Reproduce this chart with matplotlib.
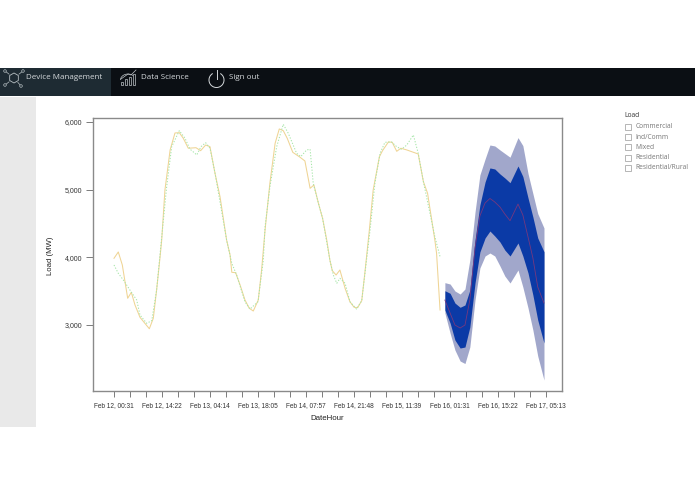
import matplotlib
matplotlib.use("Agg")
import matplotlib.pyplot as plt
from matplotlib.patches import Rectangle, Circle, Arc, RegularPolygon

# ---- data (x = hours since Feb 12, 00:31) ----
actual_h = [0,1.24,2.4,3.95,5.0,6.06,7.5,10.2,11.34,12.3,13.3,13.77,14.7,16.2,17.6,18.85,20,21.44,23.66,25,26.46,27.7,29.15,30.6,32.5,33.5,34,35.1,36.4,37.8,39.05,40.2,41.64,42.6,43.6,45,46.5,47.7,48.85,50,51.6,53.7,55.1,56.6,57.7,59,60.2,61.4,62.3,63,64.1,65.2,66.7,68.1,69.3,70.3,71.5,72.4,73.7,74.8,76.6,77.5,79.2,80.3,81.6,82.8,84.5,87.8,89.3,90.5,92.6,93.1,94.1]
actual = [3986,4079,3887,3395,3483,3296,3114,2945,3099,3517,4009,4256,4995,5587,5838,5842,5759,5612,5620,5576,5660,5635,5242,4896,4256,4035,3779,3773,3591,3370,3247,3207,3370,3813,4404,5099,5685,5897,5872,5759,5552,5479,5424,5020,5069,4799,4577,4256,3961,3803,3739,3813,3542,3344,3262,3256,3359,3769,4404,4995,5487,5576,5705,5700,5567,5612,5587,5527,5118,4947,4256,4060,3222]
fitted_h = [0,1.24,2.7,4.6,6.55,7.5,9.44,10.9,12.3,13.5,15.2,16.65,18.85,20.5,21.9,23.9,25.1,26.46,27.7,29.15,32.5,34,35.4,37.8,39.25,41.56,43.1,43.6,45,46.95,48.85,50.3,52.7,53.9,55.6,56.6,57.5,59,60.2,62.3,63.3,64.3,65.2,66.7,68.1,70,71.5,73.9,75.3,76.8,78.2,80.1,81.6,83,84.5,86.4,87.8,89.3,92.6,94.1]
fitted = [3887,3764,3665,3517,3370,3148,3025,3064,3517,4157,5044,5635,5872,5759,5601,5513,5635,5694,5612,5247,4256,3912,3739,3344,3236,3344,3961,4453,5044,5635,5966,5833,5538,5488,5587,5597,5094,4799,4577,3961,3739,3616,3690,3616,3344,3236,3359,4404,5094,5538,5700,5705,5635,5597,5660,5808,5538,5118,4305,4010]
fc_h = [95.5,97,98.4,99.9,101.3,102.7,104.2,105.6,107.1,108.5,109.9,111.4,112.8,114.3,116.6,118,119.5,120.9,122.3,124.1]
outer_hi = [3626,3606,3503,3458,3532,3961,4670,5217,5453,5660,5646,5587,5535,5480,5769,5651,5237,4941,4646,4434]
inner_hi = [3507,3469,3325,3262,3296,3517,4256,4774,5114,5321,5306,5232,5173,5103,5350,5195,4877,4596,4286,4083]
center = [3369,3177,3000,2956,3000,3369,4138,4611,4803,4870,4818,4744,4640,4541,4788,4626,4300,3990,3562,3325]
inner_lo = [3222,3030,2778,2660,2675,2970,3621,4079,4286,4389,4315,4227,4108,4020,4212,4020,3769,3443,3074,2734]
outer_lo = [3177,2882,2631,2468,2431,2675,3370,3842,4020,4064,4020,3872,3724,3621,3813,3562,3251,2926,2542,2187]
tick_labels = ["Feb 12, 00:31","Feb 12, 14:22","Feb 13, 04:14","Feb 13, 18:05","Feb 14, 07:57","Feb 14, 21:48","Feb 15, 11:39","Feb 16, 01:31","Feb 16, 15:22","Feb 17, 05:13"]
y_ticks = [3000,4000,5000,6000]
legend_items = ["Commercial","Ind/Comm","Mixed","Residential","Residential/Rural"]
nav_items = ["Device Management","Data Science","Sign out"]

W, H = 695, 494
fig = plt.figure(figsize=(W/100, H/100), dpi=100, facecolor="white")

# page chrome, in pixel coordinates
bg = fig.add_axes([0,0,1,1], zorder=0)
bg.set_xlim(0,W); bg.set_ylim(H,0); bg.axis("off")
bg.add_patch(Rectangle((0,68),W,28.5,fc="#0b0f14",ec="none"))
bg.add_patch(Rectangle((0,68),111,28.5,fc="#1e2b33",ec="none"))
bg.add_patch(Rectangle((0,97),36,330,fc="#e9e9e9",ec="none"))
navc = "#d5d9dc"
for t,x in zip(nav_items,[26,141,229]):
    bg.text(x,77.5,t,color=navc,fontsize=5.75,family="Open Sans",va="center",ha="left")
# network icon
bg.add_patch(RegularPolygon((14,78),6,radius=5,fc="none",ec="#b8c0c4",lw=.6))
for dx,dy in [(-9,-7),(9,-7),(-9,7),(7,8)]:
    bg.plot([14+dx*.55,14+dx*.85],[78+dy*.55,78+dy*.85],color="#b8c0c4",lw=.5)
    bg.add_patch(Circle((14+dx,78+dy),1.3,fc="none",ec="#b8c0c4",lw=.5))
# chart icon
for x,h in [(122,3),(126,6),(130,8),(134,11)]:
    bg.add_patch(Rectangle((x-1,85-h),2.4,h,fc="none",ec="#c0c6ca",lw=.5))
bg.add_patch(Arc((128,80),15,12,theta1=180,theta2=320,angle=0,ec="#c0c6ca",lw=.5))
bg.plot([121,128,131,136],[79,74,75,70],color="#c0c6ca",lw=.5)
# power icon
bg.add_patch(Arc((216.5,80),15,15,theta1=-60+0,theta2=240,ec="#d5d9dc",lw=.7))
bg.plot([216.5,216.5],[70,79],color="#d5d9dc",lw=.7)
# filter legend
bg.text(624.5,115.7,"Load",fontsize=4.9,family="Open Sans",color="#333333",va="center")
for i,t in enumerate(legend_items):
    y = 126.8+i*10.25
    bg.add_patch(Rectangle((625,y-3),6,6,fc="white",ec="#aaaaaa",lw=.6))
    bg.text(635.5,y,t,fontsize=4.8,family="Open Sans",color="#777777",va="center")

# plot
L,R,T,B = 93,562,118,391
ax = fig.add_axes([L/W,1-B/H,(R-L)/W,(B-T)/H],zorder=1)
ax.fill_between(fc_h,outer_lo,outer_hi,color="#a1a7cb",lw=0)
ax.fill_between(fc_h,inner_lo,inner_hi,color="#0b3aa6",lw=0)
ax.plot(fc_h,center,color="#75387f",lw=.6)
ax.plot(actual_h,actual,color="#efd494",lw=.75)
ax.plot(fitted_h,fitted,color="#a6e6a8",lw=.75,ls=(0,(1.2,1.6)))
ax.set_xlim(-6.06,129.3); ax.set_ylim(2025,6059)
step = 13.85
ax.set_xticks([i*step for i in range(10)])
ax.set_xticklabels(tick_labels,fontsize=4.7,family="Liberation Sans",color="#333333")
ax.set_xticks([i*step/3 for i in range(28)],minor=True)
ax.set_yticks(y_ticks)
ax.set_yticklabels([f"{v:,}" for v in y_ticks],fontsize=5,family="Liberation Sans",color="#333333")
ax.tick_params(axis="x",which="both",length=4,width=.6,color="#666666",pad=4)
ax.tick_params(axis="y",length=5,width=.6,color="#666666",pad=3)
for s in ax.spines.values():
    s.set_color("#8a8a8a"); s.set_linewidth(1.0)
bg.text(327.5,418,"DateHour",fontsize=5.7,family="Liberation Sans",color="#222222",ha="center",va="center")
bg.text(50,256,"Load (MW)",fontsize=5.6,family="Liberation Sans",color="#222222",rotation=90,ha="center",va="center")
fig.savefig("out.png",dpi=100)
